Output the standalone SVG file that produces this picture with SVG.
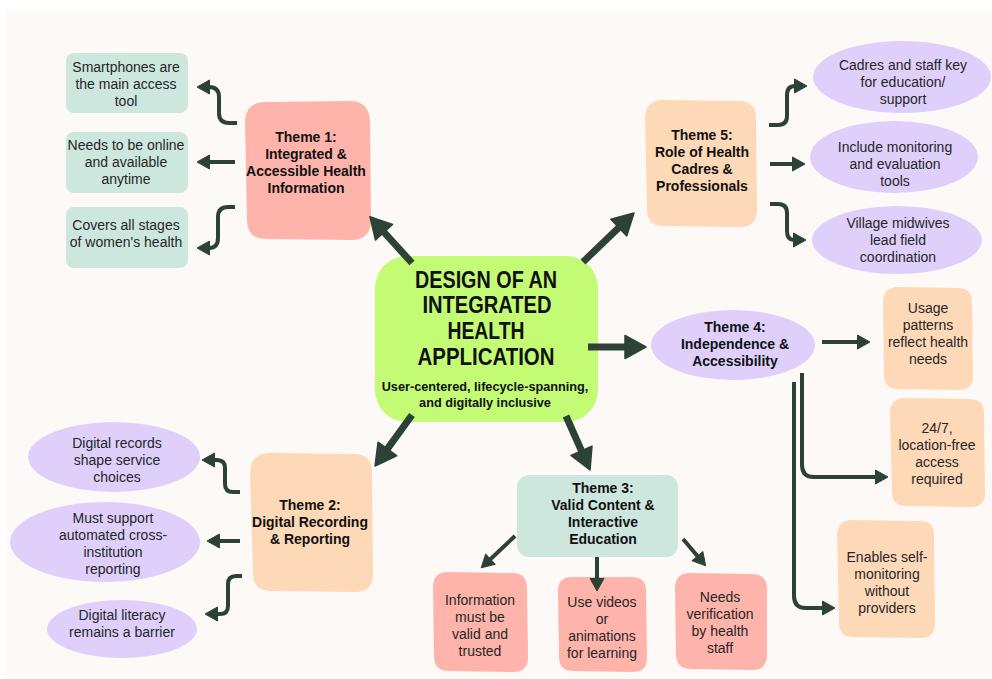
<svg xmlns="http://www.w3.org/2000/svg" width="992" height="679" viewBox="0 0 992 679">
<defs>
<style>
.t{font-family:"Liberation Sans",Arial,sans-serif;font-size:14px;fill:#262626;text-anchor:middle}
.b{font-family:"Liberation Sans",Arial,sans-serif;font-size:14px;font-weight:bold;fill:#111;text-anchor:middle}
.ti{font-family:"Liberation Sans Narrow","Liberation Sans",Arial,sans-serif;font-size:24px;font-weight:bold;fill:#111;text-anchor:middle}
.sub{font-family:"Liberation Sans",Arial,sans-serif;font-size:12.7px;font-weight:bold;fill:#111;text-anchor:middle}
.mint{fill:#cde7df}
.pink{fill:#ffb4ab}
.peach{fill:#fed9b7}
.lav{fill:#ded0fb}
.green{fill:#c3fb75}
.thick{fill:none;stroke:#2d4236;stroke-width:7;marker-end:url(#big)}
.thin{fill:none;stroke:#2d4236;stroke-width:4;marker-end:url(#small)}
</style>
<marker id="big" markerUnits="userSpaceOnUse" orient="auto" refX="0" refY="0" markerWidth="40" markerHeight="40" overflow="visible">
<path d="M-3,-11.5 L18,0 L-3,11.5 Z" fill="#2d4236" stroke="#2d4236" stroke-width="1.5" stroke-linejoin="round"/>
</marker>
<marker id="small" markerUnits="userSpaceOnUse" orient="auto" refX="0" refY="0" markerWidth="30" markerHeight="30" overflow="visible">
<path d="M-1.5,-7 L11,0 L-1.5,7 Z" fill="#2d4236" stroke="#2d4236" stroke-width="1" stroke-linejoin="round"/>
</marker>
</defs>
<rect x="0" y="0" width="992" height="679" fill="#ffffff"/>
<rect x="7" y="10" width="985" height="669" fill="#fdf9f6"/>

<g id="center">
<rect class="green" x="375" y="256" width="223" height="166" rx="32"/>
<text class="ti" x="486" y="288" textLength="142" lengthAdjust="spacingAndGlyphs">DESIGN OF AN</text>
<text class="ti" x="487" y="313" textLength="129" lengthAdjust="spacingAndGlyphs">INTEGRATED</text>
<text class="ti" x="486" y="339" textLength="77" lengthAdjust="spacingAndGlyphs">HEALTH</text>
<text class="ti" x="486" y="365" textLength="137" lengthAdjust="spacingAndGlyphs">APPLICATION</text>
<text class="sub" x="485" y="391">User-centered, lifecycle-spanning,</text>
<text class="sub" x="485" y="407">and digitally inclusive</text>
</g>

<g id="theme1">
<path class="pink" d="M266,102 L350,101 Q369,101 370,121 L371,220 Q371,240 351,240 L266,239 Q247,239 247,220 L245,121 Q246,102 266,102 Z"/>
<text class="b" x="306" y="142">Theme 1:</text>
<text class="b" x="306" y="159">Integrated &amp;</text>
<text class="b" x="306" y="176">Accessible Health</text>
<text class="b" x="306" y="193">Information</text>
</g>
<g id="t1a">
<rect class="mint" x="66" y="53" width="122" height="60" rx="8"/>
<text class="t" x="126" y="72">Smartphones are</text>
<text class="t" x="126" y="89">the main access</text>
<text class="t" x="126" y="106">tool</text>
</g>
<g id="t1b">
<rect class="mint" x="66" y="132" width="122" height="61" rx="8"/>
<text class="t" x="126" y="150">Needs to be online</text>
<text class="t" x="126" y="167">and available</text>
<text class="t" x="126" y="184">anytime</text>
</g>
<g id="t1c">
<rect class="mint" x="66" y="207" width="122" height="61" rx="8"/>
<text class="t" x="126" y="230">Covers all stages</text>
<text class="t" x="126" y="247">of women's health</text>
</g>

<g id="theme5">
<path class="peach" d="M663,100 L740,101 Q755,101 756,117 L757,210 Q757,227 740,227 L664,226 Q647,226 647,210 L645,117 Q646,100 663,100 Z"/>
<text class="b" x="702" y="140">Theme 5:</text>
<text class="b" x="702" y="157">Role of Health</text>
<text class="b" x="702" y="174">Cadres &amp;</text>
<text class="b" x="702" y="191">Professionals</text>
</g>
<g id="t5a">
<ellipse class="lav" cx="902" cy="77" rx="89" ry="36"/>
<text class="t" x="903" y="70">Cadres and staff key</text>
<text class="t" x="903" y="87">for education/</text>
<text class="t" x="903" y="104">support</text>
</g>
<g id="t5b">
<ellipse class="lav" cx="894" cy="157" rx="84" ry="36"/>
<text class="t" x="895" y="152">Include monitoring</text>
<text class="t" x="895" y="169">and evaluation</text>
<text class="t" x="895" y="186">tools</text>
</g>
<g id="t5c">
<ellipse class="lav" cx="897" cy="240" rx="85" ry="34"/>
<text class="t" x="898" y="228">Village midwives</text>
<text class="t" x="898" y="245">lead field</text>
<text class="t" x="898" y="262">coordination</text>
</g>

<g id="theme4">
<ellipse class="lav" cx="733" cy="345" rx="82" ry="35"/>
<text class="b" x="735" y="332">Theme 4:</text>
<text class="b" x="735" y="349">Independence &amp;</text>
<text class="b" x="735" y="366">Accessibility</text>
</g>
<g id="t4a">
<path class="peach" d="M898,287 L958,288 Q972,288 972,302 L973,376 Q973,390 959,390 L898,389 Q884,389 884,375 L883,301 Q884,287 898,287 Z"/>
<text class="t" x="928" y="313">Usage</text>
<text class="t" x="928" y="330">patterns</text>
<text class="t" x="928" y="347">reflect health</text>
<text class="t" x="928" y="364">needs</text>
</g>
<g id="t4b">
<path class="peach" d="M905,398 L970,399 Q984,399 984,413 L985,493 Q985,507 971,507 L906,506 Q892,506 892,492 L890,412 Q891,398 905,398 Z"/>
<text class="t" x="937" y="433">24/7,</text>
<text class="t" x="937" y="450">location-free</text>
<text class="t" x="937" y="467">access</text>
<text class="t" x="937" y="484">required</text>
</g>
<g id="t4c">
<path class="peach" d="M852,520 L920,521 Q934,521 934,535 L935,624 Q935,638 921,638 L853,637 Q839,637 839,623 L837,534 Q838,520 852,520 Z"/>
<text class="t" x="887" y="562">Enables self-</text>
<text class="t" x="887" y="579">monitoring</text>
<text class="t" x="887" y="596">without</text>
<text class="t" x="887" y="613">providers</text>
</g>

<g id="theme2">
<path class="peach" d="M270,453 L354,454 Q372,454 372,472 L373,574 Q373,592 355,592 L271,591 Q253,591 253,573 L250,472 Q251,453 270,453 Z"/>
<text class="b" x="310" y="510">Theme 2:</text>
<text class="b" x="310" y="527">Digital Recording</text>
<text class="b" x="310" y="544">&amp; Reporting</text>
</g>
<g id="t2a">
<ellipse class="lav" cx="114" cy="457" rx="86" ry="35"/>
<text class="t" x="117" y="448">Digital records</text>
<text class="t" x="117" y="465">shape service</text>
<text class="t" x="117" y="482">choices</text>
</g>
<g id="t2b">
<ellipse class="lav" cx="105" cy="542" rx="95" ry="40"/>
<text class="t" x="113" y="523">Must support</text>
<text class="t" x="113" y="540">automated cross-</text>
<text class="t" x="113" y="557">institution</text>
<text class="t" x="113" y="574">reporting</text>
</g>
<g id="t2c">
<ellipse class="lav" cx="122" cy="629" rx="75" ry="29"/>
<text class="t" x="122" y="620">Digital literacy</text>
<text class="t" x="122" y="637">remains a barrier</text>
</g>

<g id="theme3">
<rect class="mint" x="517" y="475" width="161" height="82" rx="12"/>
<text class="b" x="603" y="493">Theme 3:</text>
<text class="b" x="603" y="510">Valid Content &amp;</text>
<text class="b" x="603" y="527">Interactive</text>
<text class="b" x="603" y="544">Education</text>
</g>
<g id="t3a">
<path class="pink" d="M448,572 L512,573 Q527,573 527,588 L528,657 Q528,672 513,672 L449,671 Q434,671 434,656 L433,587 Q433,572 448,572 Z"/>
<text class="t" x="480" y="605">Information</text>
<text class="t" x="480" y="622">must be</text>
<text class="t" x="480" y="639">valid and</text>
<text class="t" x="480" y="656">trusted</text>
</g>
<g id="t3b">
<path class="pink" d="M572,577 L632,577 Q646,577 646,591 L647,658 Q647,672 633,672 L573,671 Q559,671 559,657 L558,591 Q558,577 572,577 Z"/>
<text class="t" x="602" y="607">Use videos</text>
<text class="t" x="602" y="624">or</text>
<text class="t" x="602" y="641">animations</text>
<text class="t" x="602" y="658">for learning</text>
</g>
<g id="t3c">
<path class="pink" d="M690,573 L752,574 Q767,574 767,589 L767,655 Q767,670 752,670 L691,669 Q676,669 676,654 L675,588 Q675,573 690,573 Z"/>
<text class="t" x="720" y="602">Needs</text>
<text class="t" x="720" y="619">verification</text>
<text class="t" x="720" y="636">by health</text>
<text class="t" x="720" y="653">staff</text>
</g>

<g id="connectors">
<path class="thick" d="M412,263 L382,230"/>
<path class="thick" d="M583,262 L621,225.5"/>
<path class="thick" d="M412,415 L385.6,451.4"/>
<path class="thick" d="M566,416 L582.7,453.5"/>
<path class="thick" d="M588,347 L628,347"/>

<path class="thin" d="M237,123 H229 Q219,123 219,113 V97 Q219,87 209,87 H208"/>
<path class="thin" d="M235,162 H208"/>
<path class="thin" d="M235,207 H228 Q218,207 218,217 V238 Q218,248 209,248 H208"/>

<path class="thin" d="M769,125 H778 Q787,125 787,116 V95 Q787,86 795,86 H796"/>
<path class="thin" d="M770,164 H794"/>
<path class="thin" d="M770,204 H778 Q787,204 787,213 V231 Q787,240 794,240 H795"/>

<path class="thin" d="M822,342 H859"/>
<path class="thin" d="M802,373 V465 Q802,477 814,477 H877"/>
<path class="thin" d="M794,382 V596 Q794,608 806,608 H824"/>

<path class="thin" d="M240,492 H233 Q225,492 225,484 V468 Q225,460 217,460 H213"/>
<path class="thin" d="M240,541 H218"/>
<path class="thin" d="M242,576 H236 Q228,576 228,584 V606 Q228,614 220,614 H216"/>

<path class="thin" d="M515,536 L489.3,560.2"/>
<path class="thin" d="M597,557 V580"/>
<path class="thin" d="M683,539 L698.5,557.3"/>
</g>
</svg>
